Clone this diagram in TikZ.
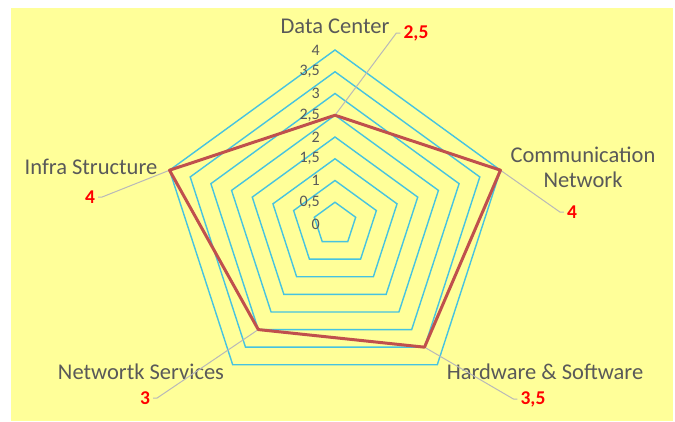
\documentclass[tikz,border=0pt]{standalone}
\usepackage{fontspec}
\setmainfont{Carlito}
\definecolor{chartbg}{RGB}{255,255,153}
\definecolor{gridcyan}{RGB}{70,195,225}
\definecolor{seriesred}{RGB}{192,80,77}
\definecolor{labelgray}{RGB}{89,89,89}
\definecolor{leadergray}{RGB}{185,185,185}

\begin{document}
\begin{tikzpicture}[x=1pt,y=1pt,
    ring/.style={draw=gridcyan,line width=1.4pt},
    series/.style={draw=seriesred,line width=3pt,line join=round},
    catlabel/.style={text=labelgray,align=center,inner sep=0pt,
        font=\fontsize{22.5}{25}\selectfont},
    ticklabel/.style={text=labelgray,anchor=east,inner sep=0pt,
        font=\fontsize{16}{17}\selectfont},
    vallabel/.style={text=red,inner sep=3pt,
        font=\bfseries\fontsize{19.5}{20}\selectfont},
    leader/.style={draw=leadergray,line width=1pt}]
    \fill[white] (-335,-197) rectangle (340,224);
    \fill[chartbg] (-324,-197) rectangle (338,216);

    % rings 0,5 ... 4
    \foreach \v in {0.5,1,...,4} {
        \pgfmathsetmacro\rr{\v*43.5}
        \draw[ring] (90:\rr) -- (18:\rr) -- (-54:\rr) -- (234:\rr)
            -- (162:\rr) -- cycle;
    }
    \foreach \v/\t [count=\i] in {0/0,0.5/{0,5},1/1,1.5/{1,5},2/2,
        2.5/{2,5},3/3,3.5/{3,5},4/4}
        \node[ticklabel] (tick\i) at (-15,\v*43.5) {\t};

    \coordinate (dc) at (90:108.75);
    \coordinate (cn) at (18:174);
    \coordinate (hw) at (-54:152.25);
    \coordinate (ns) at (234:130.5);
    \coordinate (is) at (162:174);

    \node[catlabel] (dclab) at (0,198) {Data Center};
    \node[catlabel] (cnlab) at (248,57) {Communication\\Network};
    \node[catlabel] (hwlab) at (210,-148) {Hardware \& Software};
    \node[catlabel] (nslab) at (-194,-148) {Networtk Services};
    \node[catlabel] (islab) at (-244,57) {Infra Structure};

    \node[vallabel] (dcval) at (81,191) {2,5};
    \node[vallabel] (cnval) at (237,12) {4};
    \node[vallabel] (hwval) at (198,-175) {3,5};
    \node[vallabel] (nsval) at (-190,-174) {3};
    \node[vallabel] (isval) at (-245,27) {4};

    \draw[leader] (dc) -- ([xshift=-4]dcval.west) -- (dcval.west);
    \draw[leader] (cn) -- ([xshift=-4]cnval.west) -- (cnval.west);
    \draw[leader] (hw) -- ([xshift=-4]hwval.west) -- (hwval.west);
    \draw[leader] (ns) -- ([xshift=4]nsval.east) -- (nsval.east);
    \draw[leader] (is) -- ([xshift=4]isval.east) -- (isval.east);

    \draw[series] (dc) -- (cn) -- (hw) -- (ns) -- (is) -- cycle;
\end{tikzpicture}
\end{document}
